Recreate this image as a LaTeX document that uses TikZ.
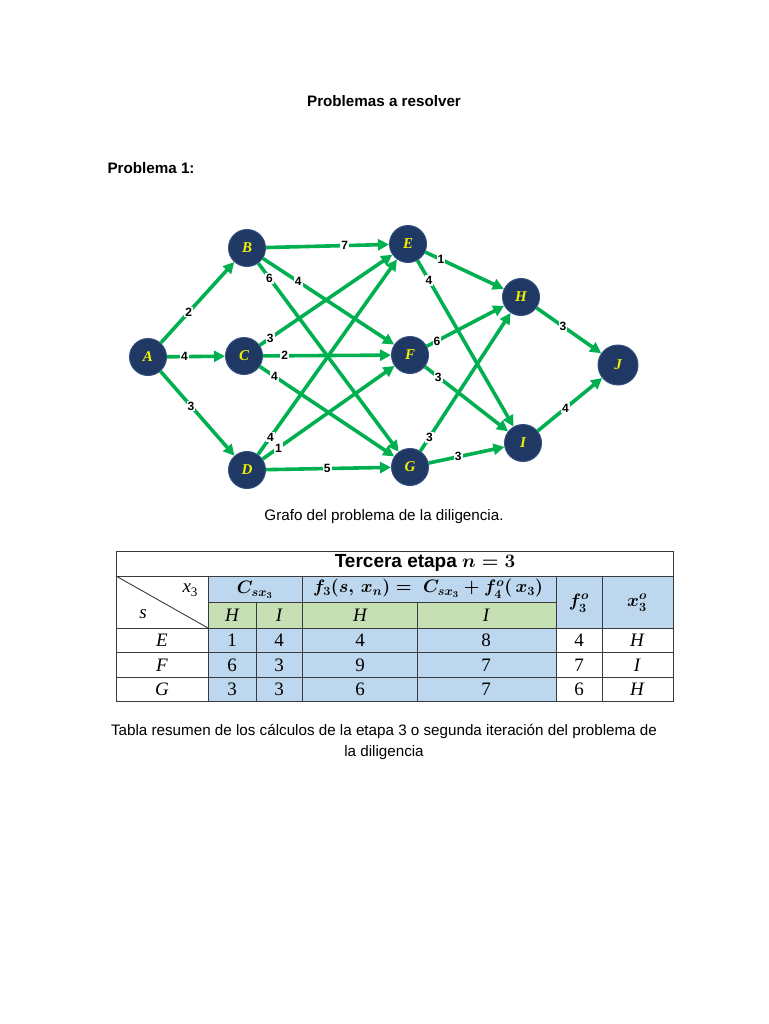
\documentclass[tikz,border=0pt]{standalone}
\usepackage{fix-cm}
\usepackage[no-math]{fontspec}
\setmainfont{Liberation Sans}
\newfontfamily\nodefont{Liberation Serif}
\usetikzlibrary{arrows.meta}
\definecolor{navy}{HTML}{1F3864}
\definecolor{navyedge}{HTML}{34507F}
\definecolor{egreen}{HTML}{00B050}
\definecolor{tblue}{HTML}{BDD7EE}
\definecolor{tgreen}{HTML}{C6E0B4}
\definecolor{tline}{HTML}{3A3A3A}
\definecolor{lettery}{HTML}{F2F200}
\newcommand{\bmth}[1]{{\boldmath$#1$}}
\begin{document}
\begin{tikzpicture}[x=1pt,y=-1pt,
  city/.style={circle,fill=navy,draw=navyedge,line width=1pt,minimum size=37pt,inner sep=0pt,
    font=\nodefont\bfseries\itshape\fontsize{15}{15}\selectfont,text=lettery},
  road/.style={draw=egreen,line width=3.6pt,-{Triangle[length=11pt,width=11pt]}},
  wlab/.style={fill=white,inner sep=1pt,font=\bfseries\fontsize{12}{12}\selectfont,text=black},
  headtxt/.style={font=\bfseries\fontsize{15.2}{15.2}\selectfont},
  captxt/.style={font=\fontsize{15.2}{21}\selectfont,align=center},
  tm/.style={font=\fontsize{18}{18}\selectfont},
  tv/.style={font=\nodefont\fontsize{19}{19}\selectfont},
  tvi/.style={font=\nodefont\itshape\fontsize{19}{19}\selectfont},
  tgrid/.style={draw=tline,line width=0.9pt},
]
\useasboundingbox (0,0) rectangle (768,1024);
\fill[white] (0,0) rectangle (768,1024);

% headings
\node[headtxt] (title) at (384,101) {Problemas a resolver};
\node[headtxt,anchor=west] (prob) at (104,168) {Problema 1:};

% graph nodes
\node[city] (A) at (148,357) {A};
\node[city] (B) at (247,248) {B};
\node[city] (C) at (244,356) {C};
\node[city] (D) at (247,470) {D};
\node[city] (E) at (408,244) {E};
\node[city] (F) at (410,355) {F};
\node[city] (G) at (410,467) {G};
\node[city] (H) at (521,297) {H};
\node[city] (I) at (523,443) {I};
\node[city,minimum size=40pt] (J) at (618,365) {J};

% edges
\draw[road] (A) -- node[wlab,pos=0.38]{2} (B);
\draw[road] (A) -- node[wlab,pos=0.30]{4} (C);
\draw[road] (A) -- node[wlab,pos=0.41]{3} (D);
\draw[road] (B) -- node[wlab,pos=0.64]{7} (E);
\draw[road] (C) -- node[wlab,pos=0.08]{3} (E);
\draw[road] (D) -- node[wlab,pos=0.09]{4} (E);
\draw[road] (B) -- node[wlab,pos=0.27]{4} (F);
\draw[road] (C) -- node[wlab,pos=0.17]{2} (F);
\draw[road] (D) -- node[wlab,pos=0.12]{1} (F);
\draw[road] (B) -- node[wlab,pos=0.08]{6} (G);
\draw[road] (C) -- node[wlab,pos=0.11]{4} (G);
\draw[road] (D) -- node[wlab,pos=0.49]{5} (G);
\draw[road] (E) -- node[wlab,pos=0.20]{1} (H);
\draw[road] (F) -- node[wlab,pos=0.13]{6} (H);
\draw[road] (G) -- node[wlab,pos=0.10]{3} (H);
\draw[road] (E) -- node[wlab,pos=0.12]{4} (I);
\draw[road] (F) -- node[wlab,pos=0.16]{3} (I);
\draw[road] (G) -- node[wlab,pos=0.39]{3} (I);
\draw[road] (H) -- node[wlab,pos=0.41]{3} (J);
\draw[road] (I) -- node[wlab,pos=0.43]{4} (J);

\node[captxt] (graphcap) at (384,517) {Grafo del problema de la diligencia.};

% table fills
\fill[tblue] (208,576) rectangle (673,628);
\fill[tgreen] (208,602) rectangle (556,628);
\fill[tblue] (208,628) rectangle (556,701);
% table lines
\draw[tgrid] (116,551) rectangle (673,701);
\draw[tgrid] (116,576) -- (673,576);
\draw[tgrid] (208,602) -- (556,602);
\draw[tgrid] (116,628) -- (673,628);
\draw[tgrid] (116,652) -- (673,652);
\draw[tgrid] (116,677) -- (673,677);
\draw[tgrid] (208,576) -- (208,701);
\draw[tgrid] (256,602) -- (256,701);
\draw[tgrid] (302,576) -- (302,701);
\draw[tgrid] (417,602) -- (417,701);
\draw[tgrid] (556,576) -- (556,701);
\draw[tgrid] (602,576) -- (602,701);
\draw[tgrid] (116,576) -- (208,628);

% table text
\node[font=\bfseries\fontsize{19}{19}\selectfont] (ttitle) at (425,563) {Tercera etapa \bmth{n=3}};
\node[tvi] (hx) at (190,590) {x\raisebox{-0.22em}{\upshape\fontsize{13}{13}\selectfont 3}};
\node[tvi] (hs) at (143,614) {s};
\node[tm] (hc) at (255,590) {\bmth{C_{sx_3}}};
\node[tm] (hf) at (428,589) {\bmth{f_3(s,\,x_n) =\; C_{sx_3}+f_4^o(\,x_3)}};
\node[tm] (hfo) at (579,603) {\bmth{f_3^o}};
\node[tm] (hxo) at (637,603) {\bmth{x_3^o}};
\node[tvi] (g1) at (232,615) {H};
\node[tvi] (g2) at (279,615) {I};
\node[tvi] (g3) at (360,615) {H};
\node[tvi] (g4) at (486,615) {I};

\node[tvi] (rE) at (162,640) {E};
\node[tv] at (232,640) {1};
\node[tv] at (279,640) {4};
\node[tv] at (360,640) {4};
\node[tv] at (486,640) {8};
\node[tv] at (579,640) {4};
\node[tvi] at (637,640) {H};

\node[tvi] (rF) at (162,665) {F};
\node[tv] at (232,665) {6};
\node[tv] at (279,665) {3};
\node[tv] at (360,665) {9};
\node[tv] at (486,665) {7};
\node[tv] at (579,665) {7};
\node[tvi] at (637,665) {I};

\node[tvi] (rG) at (162,689) {G};
\node[tv] at (232,689) {3};
\node[tv] at (279,689) {3};
\node[tv] at (360,689) {6};
\node[tv] at (486,689) {7};
\node[tv] at (579,689) {6};
\node[tvi] at (637,689) {H};

\node[captxt] (tablecap) at (384,742) {Tabla resumen de los cálculos de la etapa 3 o segunda iteración del problema de\\la diligencia};
\end{tikzpicture}
\end{document}
